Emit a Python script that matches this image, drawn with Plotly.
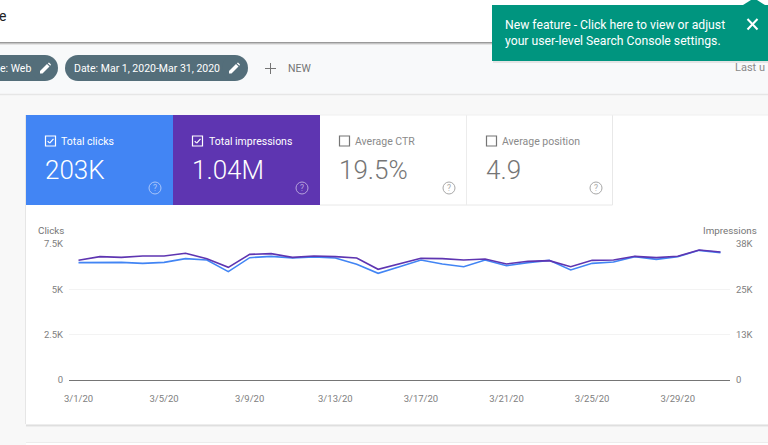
import plotly.graph_objects as go

W, H = 768, 445

dates = [f"2020-03-{d:02d}" for d in range(1, 32)]
clicks = [6471, 6489, 6489, 6434, 6489, 6691, 6618, 5974, 6746, 6820, 6728, 6783, 6728, 6379, 5882, 6250,
          6618, 6397, 6250, 6618, 6305, 6471, 6599, 6066, 6434, 6507, 6801, 6654, 6801, 7151, 7022]
impressions = [33000, 34008, 33824, 34192, 34192, 34927, 33456, 31067, 34651, 34835, 33824, 34192, 34008, 33640,
               30516, 32000, 33548, 33456, 33089, 33364, 31986, 32721, 32905, 31251, 32997, 33089, 34100, 33732,
               34100, 35846, 35294]
x_tick_vals = ["2020-03-01", "2020-03-05", "2020-03-09", "2020-03-13", "2020-03-17", "2020-03-21", "2020-03-25", "2020-03-29"]
x_tick_text = ["3/1/20", "3/5/20", "3/9/20", "3/13/20", "3/17/20", "3/21/20", "3/25/20", "3/29/20"]
left_vals = [0, 2500, 5000, 7500]
left_text = ["0", "2.5K", "5K", "7.5K"]
right_vals = [0, 12500, 25000, 37500]
right_text = ["0", "13K", "25K", "38K"]

BLUE, PURPLE = "#4285f4", "#5e35b1"
GREY = "#757575"
FONT = "Roboto"

def fx(v): return v / W
def fy(v): return 1 - v / H

shapes, notes = [], []

def rect(x0, y0, x1, y1, fill, line=None, lw=1):
    shapes.append(dict(type="rect", xref="paper", yref="paper", x0=fx(x0), x1=fx(x1), y0=fy(y0), y1=fy(y1),
                       fillcolor=fill, line=dict(color=line or "rgba(0,0,0,0)", width=lw if line else 0), layer="below"))

def seg(x0, y0, x1, y1, color, lw=1):
    shapes.append(dict(type="line", xref="paper", yref="paper", x0=fx(x0), x1=fx(x1), y0=fy(y0), y1=fy(y1),
                       line=dict(color=color, width=lw), layer="below"))

def poly(points, fill, close=True):
    d = "M " + " L ".join(f"{fx(a):.5f},{fy(b):.5f}" for a, b in points) + (" Z" if close else "")
    shapes.append(dict(type="path", xref="paper", yref="paper", path=d, fillcolor=fill, line=dict(width=0), layer="below"))

def circle(cx, cy, r, color):
    shapes.append(dict(type="circle", xref="paper", yref="paper", x0=fx(cx - r), x1=fx(cx + r), y0=fy(cy - r), y1=fy(cy + r),
                       fillcolor="rgba(0,0,0,0)", line=dict(color=color, width=1), layer="below"))

def text(x, y, s, size, color, anchor="left", weight=400):
    notes.append(dict(xref="paper", yref="paper", x=fx(x), y=fy(y), text=s, showarrow=False, xanchor=anchor, yanchor="middle",
                      font=dict(family=FONT, size=size, color=color, weight=weight), borderpad=0, borderwidth=0))

def chip(x0, x1, y0, y1, color):
    r = (y1 - y0) / 2
    shapes.append(dict(type="rect", xref="paper", yref="paper", x0=fx(x0 + r), x1=fx(x1 - r), y0=fy(y0), y1=fy(y1),
                       fillcolor=color, line=dict(width=0), layer="below"))
    for cx in (x0 + r, x1 - r):
        shapes.append(dict(type="circle", xref="paper", yref="paper", x0=fx(cx - r), x1=fx(cx + r), y0=fy(y0), y1=fy(y1),
                           fillcolor=color, line=dict(width=0), layer="below"))

def pencil(cx, cy):
    poly([(cx - 5, cy + 5), (cx - 5, cy + 2.5), (cx + 2, cy - 4.5), (cx + 4.5, cy - 2), (cx - 2.5, cy + 5)], "#ffffff")
    poly([(cx + 2.8, cy - 5.3), (cx + 4, cy - 6), (cx + 6, cy - 4), (cx + 5.3, cy - 2.8)], "#ffffff")

def checkbox(x, y, color, checked):
    shapes.append(dict(type="rect", xref="paper", yref="paper", x0=fx(x), x1=fx(x + 10), y0=fy(y), y1=fy(y + 10),
                       fillcolor="rgba(0,0,0,0)", line=dict(color=color, width=1.2), layer="below"))
    if checked:
        seg(x + 2.2, y + 5.2, x + 4.2, y + 7.2, color, 1.2)
        seg(x + 4.2, y + 7.2, x + 8, y + 2.8, color, 1.2)

def help_icon(cx, cy, color):
    circle(cx, cy, 6, color)
    text(cx, cy + 0.3, "?", 8.5, color, "center")

# page
rect(0, 0, W, 42, "#ffffff")
for i, c in enumerate(["#9a9a9a", "#c4c4c4", "#e4e4e4"]):
    seg(0, 42.5 + i, 492, 42.5 + i, c, 1)
rect(0, 45, W, 94, "#f8f9fa")
rect(0, 95, W, H, "#f8f8f8")
seg(0, 94.5, W, 94.5, "#e6e6e6", 1.5)

# lower card shadows and body
seg(26, 425, W, 425, "#bdbdbd", 1)
seg(26, 426, W, 426, "#e2e2e2", 1)
seg(25.5, 115, 25.5, 424, "#e6e6e6", 1)
rect(26, 115, W, 424.5, "#ffffff")
rect(26, 443, W, H, "#ffffff")
seg(26, 442.5, W, 442.5, "#ececec", 1)

# tiles
rect(26, 115, 173, 205, BLUE)
rect(173, 115, 320, 205, PURPLE)
seg(320, 205, 612.5, 205, "#e8e8e8", 1)
seg(466.5, 115, 466.5, 205, "#ececec", 1)
seg(612.5, 115, 612.5, 205, "#e8e8e8", 1)
seg(320, 115, 768, 115, "#f0f0f0", 1)

checkbox(45.5, 136, "#ffffff", True)
text(61, 141, "Total clicks", 10.5, "#ffffff")
text(45, 170, "203K", 26, "#ffffff", weight=300)
help_icon(155, 188, "#a9c6fa")

checkbox(192.5, 136, "#ffffff", True)
text(208.5, 141, "Total impressions", 10.5, "#ffffff")
text(192, 170, "1.04M", 26, "#ffffff", weight=300)
help_icon(302, 188, "#b7a3dd")

checkbox(339.5, 136, GREY, False)
text(355, 141, "Average CTR", 10.5, "#8a8a8a")
text(339, 170, "19.5%", 26, "#757575", weight=300)
help_icon(449, 188, "#a8a8a8")

checkbox(486.5, 136, GREY, False)
text(502, 141, "Average position", 10.5, "#8a8a8a")
text(486, 170, "4.9", 26, "#757575", weight=300)
help_icon(596, 188, "#a8a8a8")

# toolbar
text(-1, 16, "e", 14, "#202124")
chip(-30, 58, 55, 81, "#546e7a")
chip(65, 248, 55, 81, "#546e7a")
text(0, 68.5, "e: Web", 10.5, "#ffffff")
text(74, 68.5, "Date: Mar 1, 2020-Mar 31, 2020", 10.5, "#ffffff")
pencil(45, 68.5)
pencil(234, 68.5)
seg(265, 68.5, 276, 68.5, "#757575", 1)
seg(270.5, 63, 270.5, 74, "#757575", 1)
text(287.5, 68.5, "NEW", 10.5, "#757575")
text(735, 67.5, "Last u", 11, "#8a8a8a")

# notification
seg(493, 62, W, 62, "#cfcfcf", 1)
rect(492, 5, W, 61, "#00957f")
poly([(743, 5), (751, 0), (757, 0), (765, 5)], "#00957f")
text(505, 25.5, "New feature - Click here to view or adjust", 12.2, "#ffffff")
text(505, 40.5, "your user-level Search Console settings.", 12.2, "#ffffff")
seg(747.5, 19, 757.5, 29.5, "#ffffff", 2)
seg(757.5, 19, 747.5, 29.5, "#ffffff", 2)

# axis titles
text(38, 230.5, "Clicks", 9.8, "#757575")
text(757, 230.5, "Impressions", 9.8, "#757575", "right")

fig = go.Figure()
fig.add_trace(go.Scatter(x=dates, y=clicks, mode="lines", name="Clicks", yaxis="y",
                         line=dict(color=BLUE, width=1.6), showlegend=False, hoverinfo="skip"))
fig.add_trace(go.Scatter(x=dates, y=impressions, mode="lines", name="Impressions", yaxis="y2",
                         line=dict(color=PURPLE, width=1.6), showlegend=False, hoverinfo="skip"))

tick_font = dict(family=FONT, size=9.5, color="#808080")
fig.update_layout(
    width=W, height=H, margin=dict(l=0, r=0, t=0, b=0, pad=0, autoexpand=False),
    paper_bgcolor="#ffffff", plot_bgcolor="rgba(0,0,0,0)",
    shapes=shapes, annotations=notes, showlegend=False,
    xaxis=dict(domain=[fx(69), fx(730)], type="date", range=["2020-02-29 13:21", "2020-03-31 10:39"],
               tickmode="array", tickvals=x_tick_vals, ticktext=x_tick_text, tickfont=tick_font,
               ticks="outside", ticklen=9, tickcolor="rgba(0,0,0,0)", showgrid=False,
               zeroline=False, showline=True, linecolor="#757575", linewidth=1.2, anchor="y"),
    yaxis=dict(domain=[fy(380), fy(244)], range=[0, 7500], tickmode="array", tickvals=left_vals, ticktext=left_text,
               tickfont=tick_font, ticks="outside", ticklen=3, tickcolor="rgba(0,0,0,0)",
               showgrid=True, gridcolor="#f3f3f3", gridwidth=1, zeroline=False, showline=False),
    yaxis2=dict(domain=[fy(380), fy(244)], range=[0, 37500], overlaying="y", side="right", anchor="x",
                tickmode="array", tickvals=right_vals, ticktext=right_text, tickfont=tick_font,
                ticks="outside", ticklen=3, tickcolor="rgba(0,0,0,0)", showgrid=False, zeroline=False, showline=False),
)

fig.write_html("out.html", config=dict(displayModeBar=False, staticPlot=True),
               post_script="document.body.style.margin='0';document.documentElement.style.overflow='hidden';")
